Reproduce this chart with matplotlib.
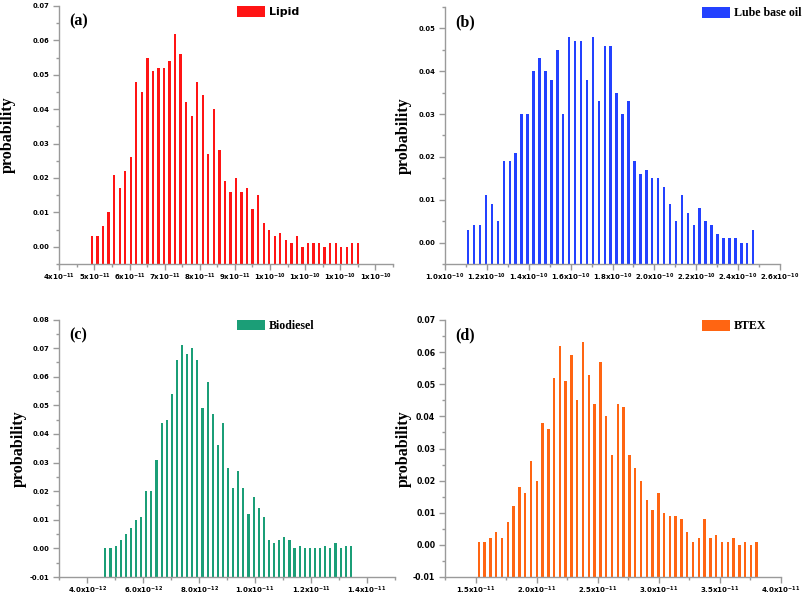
import numpy as np
import matplotlib
matplotlib.use("Agg")
import matplotlib.pyplot as plt
from matplotlib.ticker import FixedLocator, FixedFormatter, MultipleLocator, FormatStrFormatter

plt.rcParams["mathtext.default"] = "bf"

# probability per bin
lipid_prob = [0.003, 0.003, 0.006, 0.010, 0.021, 0.017, 0.022, 0.026,
              0.048, 0.045, 0.055, 0.051, 0.052, 0.052, 0.054, 0.062, 0.056, 0.042,
              0.038, 0.048, 0.044, 0.027, 0.040, 0.028, 0.019, 0.016, 0.020, 0.016,
              0.017, 0.011, 0.015, 0.007, 0.005, 0.003, 0.004, 0.002, 0.001, 0.003,
              0.000, 0.001, 0.001, 0.001, 0.000, 0.001, 0.001, 0.000, 0.000, 0.001, 0.001]
lube_prob = [0.003, 0.004, 0.004, 0.011, 0.009, 0.005, 0.019, 0.019, 0.021,
             0.030, 0.030, 0.040, 0.043, 0.040, 0.038, 0.045, 0.030, 0.048, 0.047,
             0.047, 0.038, 0.048, 0.033, 0.046, 0.046, 0.035, 0.030, 0.033,
             0.019, 0.016, 0.017, 0.015, 0.015, 0.013, 0.009, 0.005, 0.011, 0.007,
             0.004, 0.008, 0.005, 0.004, 0.002, 0.001, 0.001, 0.001, 0.000, 0.000, 0.003]
biodiesel_prob = [0.000, 0.000, 0.001, 0.003, 0.005, 0.007, 0.010, 0.011, 0.020,
                  0.020, 0.031, 0.044, 0.045, 0.054, 0.066, 0.071, 0.068, 0.070,
                  0.066, 0.049, 0.058, 0.047, 0.036, 0.044, 0.028, 0.021, 0.027,
                  0.021, 0.012, 0.018, 0.014, 0.011, 0.003, 0.002, 0.003, 0.004,
                  0.003, 0.000, 0.001, 0.000, 0.000, 0.000, 0.000, 0.001, 0.000,
                  0.002, 0.000, 0.001, 0.001]
btex_prob = [0.001, 0.001, 0.002, 0.004, 0.002, 0.007, 0.012, 0.018, 0.016, 0.026,
             0.020, 0.038, 0.036, 0.052, 0.062, 0.051, 0.059, 0.045, 0.063, 0.053,
             0.044, 0.057, 0.040, 0.028, 0.044, 0.043, 0.028, 0.024, 0.020, 0.014,
             0.011, 0.016, 0.010, 0.009, 0.009, 0.008, 0.004, 0.001, 0.002, 0.008,
             0.002, 0.003, 0.001, 0.001, 0.002, 0.000, 0.001, 0.000, 0.001]

# first bin centre, bin width
lipid_bins = (4.93e-11, 1.577e-12)
lube_bins = (1.111e-10, 2.835e-12)
biodiesel_bins = (4.646e-12, 1.828e-13)
btex_bins = (1.527e-11, 4.738e-13)

lipid_ticks = [4e-11, 5e-11, 6e-11, 7e-11, 8e-11, 9e-11, 10e-11, 11e-11, 12e-11, 13e-11]
lipid_ticklabels = ["4x10$^{-11}$", "5x10$^{-11}$", "6x10$^{-11}$", "7x10$^{-11}$",
                    "8x10$^{-11}$", "9x10$^{-11}$", "1x10$^{-10}$", "1x10$^{-10}$",
                    "1x10$^{-10}$", "1x10$^{-10}$"]
lube_ticks = [1.0e-10, 1.2e-10, 1.4e-10, 1.6e-10, 1.8e-10, 2.0e-10, 2.2e-10, 2.4e-10, 2.6e-10]
lube_ticklabels = ["1.0x10$^{-10}$", "1.2x10$^{-10}$", "1.4x10$^{-10}$", "1.6x10$^{-10}$",
                   "1.8x10$^{-10}$", "2.0x10$^{-10}$", "2.2x10$^{-10}$", "2.4x10$^{-10}$",
                   "2.6x10$^{-10}$"]
biodiesel_ticks = [4e-12, 6e-12, 8e-12, 1.0e-11, 1.2e-11, 1.4e-11]
biodiesel_ticklabels = ["4.0x10$^{-12}$", "6.0x10$^{-12}$", "8.0x10$^{-12}$",
                        "1.0x10$^{-11}$", "1.2x10$^{-11}$", "1.4x10$^{-11}$"]
btex_ticks = [1.5e-11, 2.0e-11, 2.5e-11, 3.0e-11, 3.5e-11, 4.0e-11]
btex_ticklabels = ["1.5x10$^{-11}$", "2.0x10$^{-11}$", "2.5x10$^{-11}$",
                   "3.0x10$^{-11}$", "3.5x10$^{-11}$", "4.0x10$^{-11}$"]

W, H = 806, 596
SPINE = "#9a9a9a"

panels = [
    # prob, bins, colour, label, label font, tag, ticks, ticklabels, xlim, ylim, ystep, box(px)
    (lipid_prob, lipid_bins, "#ff1414", "Lipid", "DejaVu Sans", "(a)",
     lipid_ticks, lipid_ticklabels, (4e-11, 13.5e-11), (-0.005, 0.07), 0.01,
     (59.3, 6, 393, 264), 5e-12),
    (lube_prob, lube_bins, "#2341ff", "Lube base oil", "Liberation Serif", "(b)",
     lube_ticks, lube_ticklabels, (1.0e-10, 2.6e-10), (-0.005, 0.055), 0.01,
     (445, 7, 780, 264), 1e-11),
    (biodiesel_prob, biodiesel_bins, "#1b9e77", "Biodiesel", "Liberation Serif", "(c)",
     biodiesel_ticks, biodiesel_ticklabels, (3e-12, 1.5e-11), (-0.01, 0.08), 0.01,
     (59.3, 319.5, 395, 577), 1e-12),
    (btex_prob, btex_bins, "#ff6512", "BTEX", "Liberation Serif", "(d)",
     btex_ticks, btex_ticklabels, (1.25e-11, 4.0e-11), (-0.01, 0.07), 0.01,
     (445, 320, 781, 577), 2.5e-12),
]

fig = plt.figure(figsize=(W / 100, H / 100), dpi=100)

for (prob, bins, color, label, lfont, tag, ticks, ticklabels,
     xlim, ylim, ystep, box, xminor) in panels:
    x0, y0, x1, y1 = box
    ax = fig.add_axes([x0 / W, 1 - y1 / H, (x1 - x0) / W, (y1 - y0) / H])
    start, width = bins
    centres = start + width * np.arange(len(prob))
    bottom = ylim[0]
    heights = np.array(prob) - bottom
    bars = ax.bar(centres, heights, width=width * 0.42, bottom=bottom, color=color,
                  linewidth=0)
    ax.set_xlim(*xlim)
    ax.set_ylim(*ylim)

    for side in ("top", "right"):
        ax.spines[side].set_visible(False)
    for side in ("left", "bottom"):
        ax.spines[side].set_color(SPINE)
        ax.spines[side].set_linewidth(1.0)

    ax.xaxis.set_major_locator(FixedLocator(ticks))
    ax.xaxis.set_major_formatter(FixedFormatter(ticklabels))
    ax.xaxis.set_minor_locator(MultipleLocator(xminor))
    ax.yaxis.set_major_locator(MultipleLocator(ystep))
    ax.yaxis.set_minor_locator(MultipleLocator(ystep / 2))
    ax.yaxis.set_major_formatter(FormatStrFormatter("%.2f"))
    ax.tick_params(which="both", direction="out", color=SPINE, width=1.0)
    ax.tick_params(which="major", length=4, pad=3)
    ax.tick_params(axis="x", which="major", pad=1.8)
    ax.tick_params(which="minor", length=2.5)
    for t in ax.get_xticklabels():
        t.set_fontsize(5.0)
        t.set_fontweight("bold")
    for t in ax.get_yticklabels():
        t.set_fontsize(5.6 if tag == "(d)" else 4.9)
        t.set_fontweight("bold")

    ax.set_ylabel("probability", family="Liberation Serif", fontweight="bold",
                  fontsize=11.5)
    ax.yaxis.label.set_va("center")
    lab_x = 8 if x0 < 100 else 404
    if tag == "(c)":
        lab_x = 19
    ax.yaxis.set_label_coords((lab_x - x0) / (x1 - x0), 0.5)

    ax.text(0.03, 0.97, tag, transform=ax.transAxes, ha="left", va="top",
            family="Liberation Serif", fontweight="bold", fontsize=11.5)

    fs = 8.0 if lfont == "DejaVu Sans" else 8.6
    fpx = fs * 100 / 72
    leg_x = (237 - x0) / (x1 - x0) if x0 < 100 else (702 - x0) / (x1 - x0)
    ax.legend([bars], [label], loc="upper left",
              bbox_to_anchor=(leg_x, 1.0), frameon=False, borderpad=0,
              borderaxespad=0, handlelength=28 / fpx, handleheight=12 / fpx,
              handletextpad=4 / fpx,
              prop={"family": lfont, "weight": "bold", "size": fs})

fig.savefig("out.png", dpi=100, facecolor="white")
